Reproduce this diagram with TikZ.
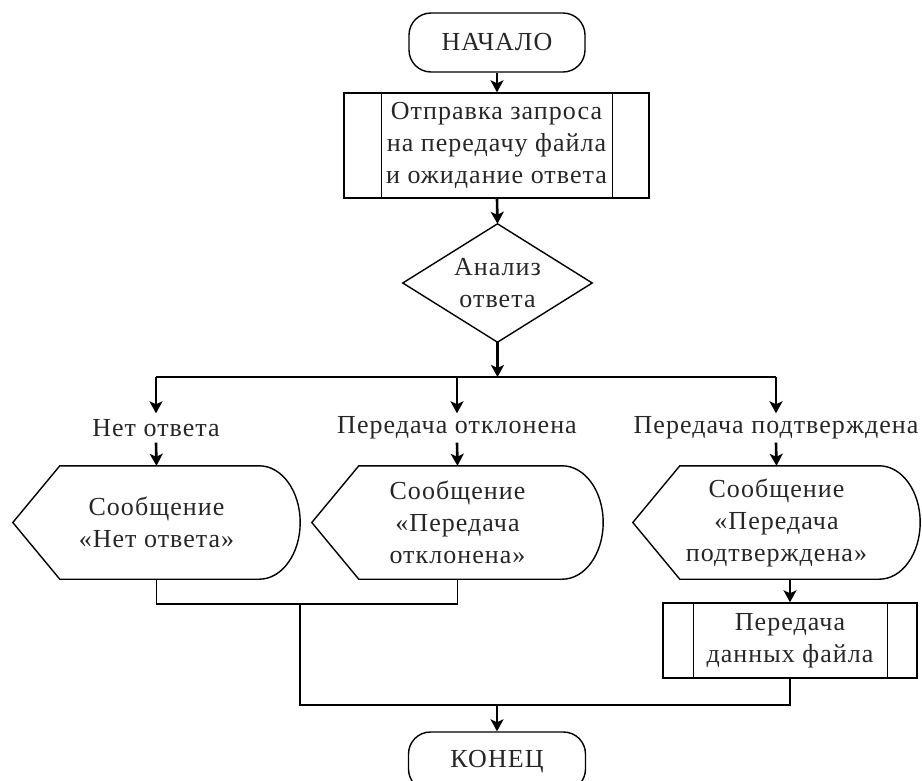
\documentclass[tikz,border=0pt]{standalone}
\usepackage{fontspec}
\setmainfont{Liberation Serif}[LetterSpace=4]
\usetikzlibrary{arrows.meta,calc}
\begin{document}
\begin{tikzpicture}[x=1pt,y=-1pt,
  every node/.style={font=\fontsize{26}{32}\selectfont, text=black!85, align=center, inner sep=0pt},
  outl/.style={draw=black, line width=1.4pt},
  term/.style={outl, rounded corners=22pt},
  conn/.style={draw=black, line width=1.4pt},
  busline/.style={draw=black, line width=2pt},
  arr/.style={draw=black, line width=2.6pt, -{Stealth[length=12pt,width=13pt,inset=3pt]}},
]
\useasboundingbox (0,0) rectangle (922,780);
\clip (0,0) rectangle (922,780);

% start
\node[term, minimum width=176pt, minimum height=59pt] (start) at (497,42.5) {НАЧАЛО};

% predefined process 1
\node[outl, minimum width=305pt, minimum height=105pt] (b1) at (496.5,145.5)
  {Отправка запроса\\на передачу файла\\и ожидание ответа};
\draw[outl] ($(b1.north west)+(38,0)$) -- ($(b1.south west)+(38,0)$);
\draw[outl] ($(b1.north east)+(-37,0)$) -- ($(b1.south east)+(-37,0)$);

% decision
\node[minimum width=189pt, minimum height=118pt] (dia) at (497.5,283) {Анализ\\ответа};
\draw[outl] (dia.north) -- (dia.east) -- (dia.south) -- (dia.west) -- cycle;

% bus
\coordinate (busL) at (156,377);
\coordinate (busM) at (457,377);
\coordinate (busR) at (776,377);
\draw[busline] (busL) -- (busR);

% labels
\node[minimum height=29pt] (l1) at (156,428) {Нет ответа};
\node[minimum height=29pt] (l2) at (457,428) {Передача отклонена};
\node[minimum height=29pt] (l3) at (776,428) {Передача подтверждена};

% display shapes
\node[minimum width=287pt, minimum height=113pt] (d1) at (156.5,522.5) {Сообщение\\«Нет ответа»};
\node[minimum width=291pt, minimum height=113pt] (d2) at (457.5,522.5) {Сообщение\\«Передача\\отклонена»};
\node[minimum width=287pt, minimum height=113pt] (d3) at (776.5,522.5) {Сообщение\\«Передача\\подтверждена»};
\foreach \d in {d1,d2,d3}{
  \draw[outl] (\d.west) -- ($(\d.north west)+(47,0)$) -- ($(\d.north east)+(-41,0)$)
    .. controls ($(\d.north east)+(-18,0)$) and ($(\d.east)+(0,-31)$) .. (\d.east)
    .. controls ($(\d.east)+(0,31)$) and ($(\d.south east)+(-18,0)$) .. ($(\d.south east)+(-41,0)$)
    -- ($(\d.south west)+(47,0)$) -- cycle;
}

% predefined process 2
\node[outl, minimum width=254pt, minimum height=75pt] (b2) at (790,640.5)
  {Передача\\данных файла};
\draw[outl] ($(b2.north west)+(31,0)$) -- ($(b2.south west)+(31,0)$);
\draw[outl] ($(b2.north east)+(-30,0)$) -- ($(b2.south east)+(-30,0)$);

% end
\node[term, minimum width=177pt, minimum height=59pt] (end) at (497,761.5) {КОНЕЦ};

% connectors
\draw[arr] (start.south) -- (b1.north -| start.south);
\draw[arr] (b1.south -| start.south) -- (dia.north);
\draw[arr] (dia.south) -- (dia.south |- busL);
\draw[arr] (busL) -- (l1.north);
\draw[arr] (busM) -- (l2.north);
\draw[arr] (busR) -- (l3.north);
\draw[arr] (l1.south) -- (d1.north);
\draw[arr] (l2.south) -- (d2.north);
\draw[arr] (l3.south) -- (d3.north);
\draw[arr] (d3.south -| b2.north) -- (b2.north);

\coordinate (j1) at (300,604);
\coordinate (j2) at (300,705);
\coordinate (j3) at (497,705);
\draw[conn] (d1.south) |- (j1) -| (d2.south);
\draw[conn] (j1) -- (j2) -| (b2.south);
\draw[arr] (j3) -- (end.north);
\end{tikzpicture}
\end{document}
